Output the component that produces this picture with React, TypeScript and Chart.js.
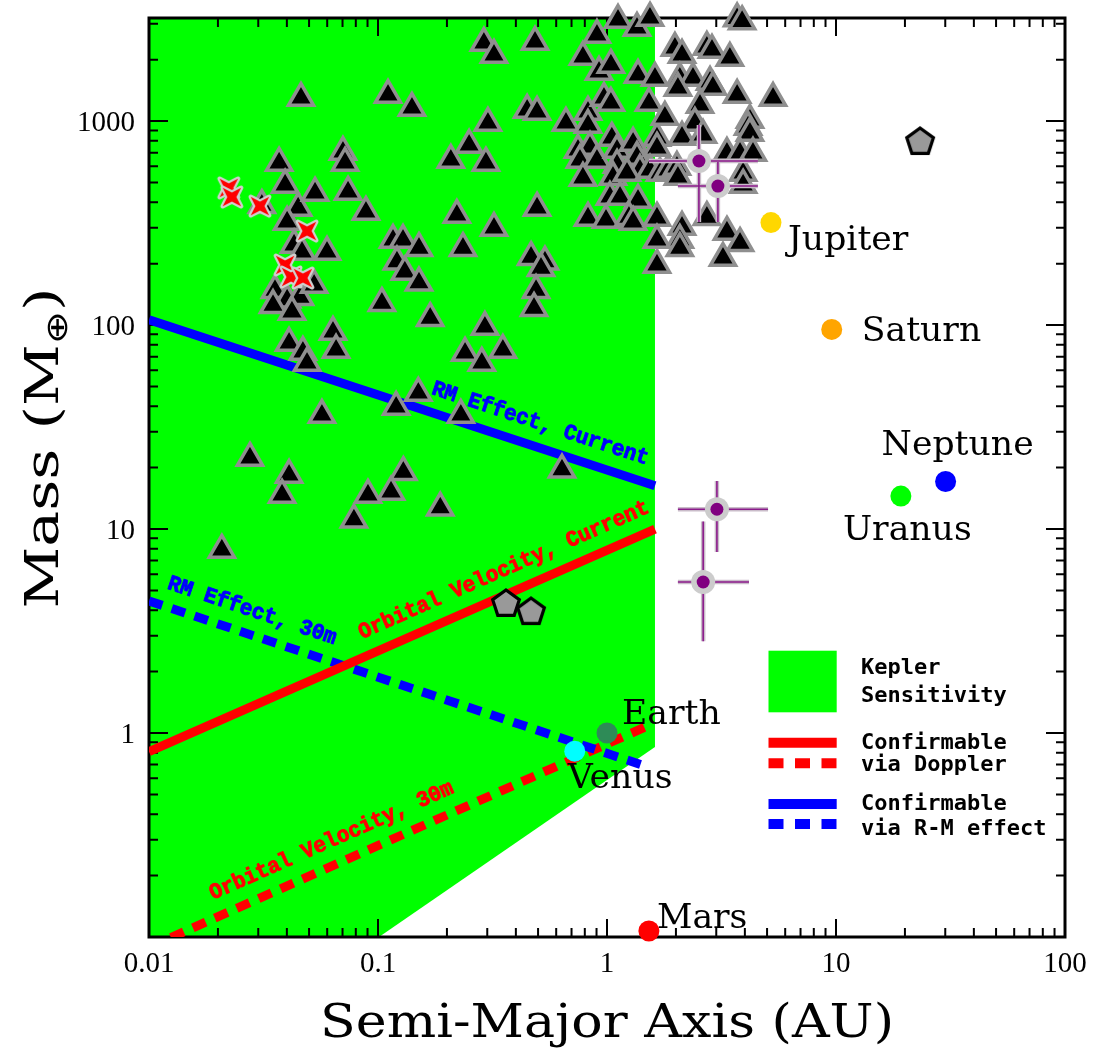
import React, { useEffect, useRef } from 'react';
import { Chart, registerables } from 'chart.js';

Chart.register(...registerables);

// ---------------- axis ranges & tick labels ----------------
const X_MIN = 0.01;
const X_MAX = 100;
const Y_MIN = 0.1;
const Y_MAX = 3200;
const xTickValues = [0.01, 0.1, 1, 10, 100];
const xTickLabels = ['0.01', '0.1', '1', '10', '100'];
const yTickValues = [1, 10, 100, 1000];
const yTickLabels = ['1', '10', '100', '1000'];

// ---------------- known exoplanets (triangles) ----------------
const triX = [0.0208,0.0276,0.0409,0.0381,0.129,0.114,0.0904,0.187,0.0785,0.0569,
0.150,0.120,0.230,0.636,0.0409,0.047,0.049,0.0636,0.0656,0.104,
0.169,0.293,0.240,0.284,0.351,0.0355,0.0401,0.0456,0.0526,0.0348,
0.0421,0.0370,0.0393,0.0311,0.0448,0.0401,0.043,0.0466,0.0599,0.0531,
0.074,0.0886,0.0703,0.0718,0.0461,0.1106,0.1407,0.1163,0.1286,0.151,
0.121,0.131,0.151,0.208,0.250,0.296,0.302,0.290,0.321,0.485,
0.221,0.321,0.495,0.235,0.466,0.536,0.515,0.490,0.480,0.448,
0.495,0.662,0.826,0.826,0.747,0.843,0.762,0.904,0.785,1.05,
1.106,1.30,1.352,1.106,1.062,1.393,1.223,1.653,1.653,1.541,
1.704,1.03,1.14,1.366,0.97,1.04,1.525,0.785,0.923,1.04,
1.366,1.62,0.904,1.117,1.352,1.541,0.826,0.99,1.247,1.30,
1.653,1.653,1.653,3.70,3.89,1.98,2.126,2.73,2.874,3.44,
2.08,2.374,2.818,2.90,3.70,5.31,2.04,2.547,1.79,2.42,
4.21,4.13,4.21,2.126,2.626,3.34,3.81,4.34,1.846,2.02,
2.04,3.93,3.93,2.73,2.126,2.08,2.08,3.34,3.81,3.21];
const triY = [7.9,22.3,18.4,14.7,19.0,15.2,14.7,12.7,11.1,36.2,
46.4,39.6,36.2,19.5,81.6,73.7,65.1,92.4,75.4,128,
108,97.8,72.9,65.1,75.4,148,133,137,157,125,
116,623,486,387,375,320,247,228,228,444,
449,358,705,623,1297,1341,1158,261,261,238,
204,182,161,644,763,623,977,2412,2107,2440,
346,299,375,238,215,204,190,148,121,1132,
1107,977,1107,955,721,746,644,644,526,826,
721,780,666,609,531,575,556,826,738,575,
556,424,424,410,1297,1225,1225,2059,1738,1883,
1680,1625,2641,3126,2858,3200,335,327,338,320,
335,261,197,3180,3080,2280,2107,2306,2228,2036,
1625,1625,1553,1468,1341,1297,1452,1198,1046,977,
1011,935,873,835,854,697,697,697,575,595,
531,556,486,338,302,261,238,286,252,213];

// ---------------- red stars ----------------
const starX = [0.0223, 0.0230, 0.0305, 0.049, 0.0393, 0.0417, 0.047];
const starY = [470, 424, 383, 289, 197, 172, 170];

// ---------------- pentagons ----------------
const pentX = [23.3, 0.362, 0.466];
const pentY = [798, 4.34, 3.96];

// ---------------- points with error bars ----------------
const errX = [2.52, 3.05, 3.02, 2.63];
const errY = [637, 480, 12.5, 5.5];
const errXLo = [1.525, 2.04, 2.04, 2.04];
const errXHi = [4.56, 4.56, 5.05, 4.17];
const errYLo = [320, 320, 7.71, 2.82];
const errYHi = [955, 630, 17.2, 10.9];

// ---------------- solar system ----------------
const planetNames = ['Mars', 'Venus', 'Earth', 'Jupiter', 'Saturn', 'Uranus', 'Neptune'];
const planetA = [1.524, 0.723, 1.0, 5.2, 9.58, 19.2, 30.1];
const planetM = [0.107, 0.815, 1.0, 317.8, 95.2, 14.5, 17.1];
const planetColors = ['#ff0000', '#00ffff', '#2e8b57', '#ffd700', '#ffa500', '#00ff00', '#0000ff'];

// ---------------- Kepler sensitivity region (lower-right boundary) ----------------
const keplerX = [0.01, 0.101, 1.62, 1.62];
const keplerY = [0.1, 0.1, 0.854, 3200];

// ---------------- confirmation limit lines ----------------
const rmCurX = [0.01, 1.62];
const rmCurY = [106, 16.3];
const rm30X = [0.01, 1.52];
const rm30Y = [4.44, 0.68];
const ovCurX = [0.01, 1.62];
const ovCurY = [0.81, 10];
const ov30X = [0.01, 1.55];
const ov30Y = [0.089, 1.1];

const pts = (xs: number[], ys: number[]) => xs.map((x, i) => ({ x, y: ys[i] }));

function logTicks(min: number, max: number) {
  const out: { v: number; major: boolean }[] = [];
  const d0 = Math.floor(Math.log10(min));
  const d1 = Math.ceil(Math.log10(max));
  for (let d = d0; d <= d1; d++) {
    for (let k = 1; k <= 9; k++) {
      const v = k * Math.pow(10, d);
      if (v >= min * 0.999 && v <= max * 1.001) out.push({ v, major: k === 1 });
    }
  }
  return out;
}

function makeStar(): HTMLCanvasElement {
  const c = document.createElement('canvas');
  c.width = 32; c.height = 32;
  const ctx = c.getContext('2d')!;
  const cx = 16, cy = 16, R = 13, r = 4.5;
  ctx.beginPath();
  for (let i = 0; i < 8; i++) {
    const ang = Math.PI / 4 + (i * Math.PI) / 4;
    const rad = i % 2 === 0 ? R : r;
    const px = cx + Math.cos(ang) * rad;
    const py = cy + Math.sin(ang) * rad;
    if (i === 0) ctx.moveTo(px, py); else ctx.lineTo(px, py);
  }
  ctx.closePath();
  ctx.lineJoin = 'round';
  ctx.lineWidth = 4.5;
  ctx.strokeStyle = '#d0d0d0';
  ctx.stroke();
  ctx.fillStyle = '#ff0000';
  ctx.fill();
  return c;
}

function makePentagon(): HTMLCanvasElement {
  const c = document.createElement('canvas');
  c.width = 36; c.height = 36;
  const ctx = c.getContext('2d')!;
  const cx = 18, cy = 19, R = 14;
  ctx.beginPath();
  for (let i = 0; i < 5; i++) {
    const ang = -Math.PI / 2 + (i * 2 * Math.PI) / 5;
    const px = cx + Math.cos(ang) * R;
    const py = cy + Math.sin(ang) * R;
    if (i === 0) ctx.moveTo(px, py); else ctx.lineTo(px, py);
  }
  ctx.closePath();
  ctx.fillStyle = '#999999';
  ctx.fill();
  ctx.lineJoin = 'miter';
  ctx.lineWidth = 3.2;
  ctx.strokeStyle = '#000000';
  ctx.stroke();
  return c;
}

function drawAxes(chart: any) {
  const { ctx, chartArea: a, scales } = chart;
  const xs = scales.x, ys = scales.y;
  ctx.save();
  ctx.strokeStyle = '#000';
  ctx.lineWidth = 2;
  ctx.beginPath();
  for (const t of logTicks(X_MIN, X_MAX)) {
    const px = xs.getPixelForValue(t.v);
    const len = t.major ? 18 : 9;
    ctx.moveTo(px, a.bottom); ctx.lineTo(px, a.bottom - len);
    ctx.moveTo(px, a.top); ctx.lineTo(px, a.top + len);
  }
  for (const t of logTicks(Y_MIN, Y_MAX)) {
    const py = ys.getPixelForValue(t.v);
    const len = t.major ? 19 : 9;
    ctx.moveTo(a.left, py); ctx.lineTo(a.left + len, py);
    ctx.moveTo(a.right, py); ctx.lineTo(a.right - len, py);
  }
  ctx.stroke();
  ctx.lineWidth = 3;
  ctx.strokeRect(a.left, a.top, a.right - a.left, a.bottom - a.top);
  ctx.restore();
}

function fitText(ctx: CanvasRenderingContext2D, text: string, cx: number, y: number, targetW: number, strokeW = 0) {
  const w = ctx.measureText(text).width;
  ctx.save();
  ctx.translate(cx, y);
  ctx.scale(targetW / w, 1);
  ctx.textAlign = 'center';
  if (strokeW > 0) {
    ctx.lineWidth = strokeW;
    ctx.strokeStyle = ctx.fillStyle;
    ctx.lineJoin = 'round';
    ctx.strokeText(text, 0, 0);
  }
  ctx.fillText(text, 0, 0);
  ctx.restore();
}

const PLANET_LABEL_OFFSET: [number, number][] = [[8, -3], [-7, 37], [15, -9], [17, 27], [30, 12], [-58, 44], [-64, -26]];

const LINE_LABELS = [
  { text: 'RM Effect, Current', color: '#0000ff', xs: rmCurX, ys: rmCurY, at: 0.475 },
  { text: 'Orbital Velocity, Current', color: '#ff0000', xs: ovCurX, ys: ovCurY, at: 0.389 },
  { text: 'RM Effect, 30m', color: '#0000ff', xs: rm30X, ys: rm30Y, at: 0.0262 },
  { text: 'Orbital Velocity, 30m', color: '#ff0000', xs: ov30X, ys: ov30Y, at: 0.0689 },
];

function drawTexts(chart: any) {
  const { ctx, chartArea: a, scales } = chart;
  const xs = scales.x, ys = scales.y;
  ctx.save();

  // line labels
  ctx.font = 'bold 22px "Liberation Mono"';
  ctx.textBaseline = 'middle';
  for (const L of LINE_LABELS) {
    const x0 = xs.getPixelForValue(L.xs[0]), y0 = ys.getPixelForValue(L.ys[0]);
    const x1 = xs.getPixelForValue(L.xs[1]), y1 = ys.getPixelForValue(L.ys[1]);
    const ang = Math.atan2(y1 - y0, x1 - x0);
    const ax = xs.getPixelForValue(L.at);
    const ay = y0 + ((ax - x0) / (x1 - x0)) * (y1 - y0);
    ctx.save();
    ctx.translate(ax, ay);
    ctx.rotate(ang);
    ctx.fillStyle = L.color;
    fitText(ctx, L.text, 0, -23, L.text.length * 12.6, 0.9);
    ctx.restore();
  }

  // planet labels
  ctx.fillStyle = '#000';
  ctx.font = '33px "DejaVu Serif"';
  ctx.textAlign = 'left';
  ctx.textBaseline = 'alphabetic';
  planetNames.forEach((n, i) => {
    const px = xs.getPixelForValue(planetA[i]);
    const py = ys.getPixelForValue(planetM[i]);
    const [dx, dy] = PLANET_LABEL_OFFSET[i];
    ctx.save();
    ctx.translate(px + dx, py + dy);
    ctx.scale(1.05, 1);
    ctx.fillText(n, 0, 0);
    ctx.restore();
  });

  // tick labels
  ctx.font = '29px "Liberation Serif"';
  ctx.textAlign = 'center';
  ctx.textBaseline = 'alphabetic';
  xTickValues.forEach((v, i) => {
    ctx.fillText(xTickLabels[i], xs.getPixelForValue(v), a.bottom + 35);
  });
  ctx.textAlign = 'right';
  yTickValues.forEach((v, i) => {
    ctx.fillText(yTickLabels[i], a.left - 14, ys.getPixelForValue(v) + 10);
  });

  // axis titles
  ctx.font = '46px "DejaVu Serif"';
  ctx.textBaseline = 'alphabetic';
  fitText(ctx, 'Semi-Major Axis (AU)', (a.left + a.right) / 2, 1037, 574);

  // y title with subscript
  ctx.save();
  ctx.translate(58, 448);
  ctx.rotate(-Math.PI / 2);
  const big = '46px "DejaVu Serif"';
  const small = '30px "DejaVu Sans"';
  ctx.font = big;
  const w1 = ctx.measureText('Mass (M').width;
  const w3 = ctx.measureText(')').width;
  ctx.font = small;
  const w2 = ctx.measureText('\u2295').width;
  const W = w1 + w2 + w3;
  ctx.scale(321 / W, 1);
  ctx.textAlign = 'left';
  ctx.font = big;
  ctx.fillText('Mass (M', -W / 2, 0);
  ctx.font = small;
  ctx.fillText('\u2295', -W / 2 + w1, 9);
  ctx.font = big;
  ctx.fillText(')', -W / 2 + w1 + w2, 0);
  ctx.restore();

  // legend
  ctx.fillStyle = '#00ff00';
  ctx.fillRect(768.5, 650.7, 68.2, 61.6);
  ctx.lineWidth = 10;
  ctx.lineCap = 'butt';
  const legLine = (y: number, color: string, dashed: boolean) => {
    ctx.strokeStyle = color;
    ctx.setLineDash(dashed ? [15, 11.5] : []);
    ctx.beginPath();
    ctx.moveTo(768.5, y);
    ctx.lineTo(836.7, y);
    ctx.stroke();
  };
  legLine(742.7, '#ff0000', false);
  legLine(763.3, '#ff0000', true);
  legLine(804, '#0000ff', false);
  legLine(824, '#0000ff', true);
  ctx.setLineDash([]);
  ctx.fillStyle = '#000';
  ctx.font = 'bold 22px "DejaVu Sans Mono"';
  ctx.textAlign = 'left';
  ctx.fillText('Kepler', 861, 674);
  ctx.fillText('Sensitivity', 861, 701.7);
  ctx.fillText('Confirmable', 861, 749);
  ctx.fillText('via Doppler', 861, 770.7);
  ctx.fillText('Confirmable', 861, 810);
  ctx.fillText('via R-M effect', 861, 835);

  ctx.restore();
}

export default function App() {
  const ref = useRef<HTMLCanvasElement>(null);

  useEffect(() => {
    const canvas = ref.current;
    if (!canvas) return;
    const starImg = makeStar();
    const pentImg = makePentagon();

    const errBarData: any[] = [];
    errX.forEach((x, i) => {
      errBarData.push({ x: errXLo[i], y: errY[i] }, { x: errXHi[i], y: errY[i] }, { x, y: null });
      errBarData.push({ x, y: errYLo[i] }, { x, y: errYHi[i] }, { x, y: null });
    });

    const lineDs = (xs: number[], ys: number[], color: string, dashed: boolean, order: number) => ({
      type: 'line' as const,
      data: pts(xs, ys),
      borderColor: color,
      borderWidth: 9,
      borderDash: dashed ? [14, 10] : [],
      borderCapStyle: 'butt' as const,
      pointRadius: 0,
      fill: false,
      tension: 0,
      clip: 0,
      order,
    });

    const chart = new Chart(canvas, {
      type: 'scatter',
      data: {
        datasets: [
          {
            type: 'line',
            data: pts(keplerX, keplerY),
            borderWidth: 0,
            borderColor: 'rgba(0,0,0,0)',
            backgroundColor: '#00ff00',
            fill: 'end',
            pointRadius: 0,
            tension: 0,
            clip: 0,
            order: 20,
          } as any,
          lineDs(ov30X, ov30Y, '#ff0000', true, 19),
          lineDs(rm30X, rm30Y, '#0000ff', true, 18),
          lineDs(ovCurX, ovCurY, '#ff0000', false, 17),
          lineDs(rmCurX, rmCurY, '#0000ff', false, 16),
          {
            data: pts(triX, triY),
            pointStyle: 'triangle',
            pointRadius: 14.5,
            backgroundColor: '#000000',
            borderColor: '#8f8f8f',
            borderWidth: 3.5,
            clip: false,
            order: 15,
          } as any,
          {
            data: pts(starX, starY),
            pointStyle: starImg,
            pointRadius: 12,
            clip: false,
            order: 14,
          } as any,
          {
            data: pts(pentX, pentY),
            pointStyle: pentImg,
            pointRadius: 13,
            clip: false,
            order: 13,
          } as any,
          {
            type: 'line',
            data: errBarData,
            borderColor: '#c9bcc9',
            borderWidth: 4.5,
            pointRadius: 0,
            spanGaps: false,
            fill: false,
            tension: 0,
            clip: false,
            order: 12,
          } as any,
          {
            type: 'line',
            data: errBarData,
            borderColor: '#8b1a8b',
            borderWidth: 1.6,
            pointRadius: 0,
            spanGaps: false,
            fill: false,
            tension: 0,
            clip: false,
            order: 11,
          } as any,
          {
            data: pts(errX, errY),
            pointStyle: 'circle',
            pointRadius: 12,
            backgroundColor: '#cccccc',
            borderWidth: 0,
            clip: false,
            order: 10,
          } as any,
          {
            data: pts(errX, errY),
            pointStyle: 'circle',
            pointRadius: 6.5,
            backgroundColor: '#800080',
            borderWidth: 0,
            clip: false,
            order: 9,
          } as any,
          {
            data: pts(planetA, planetM),
            pointStyle: 'circle',
            pointRadius: 10.5,
            backgroundColor: planetColors,
            borderWidth: 0,
            clip: false,
            order: 8,
          } as any,
        ],
      },
      options: {
        responsive: false,
        animation: false,
        devicePixelRatio: 1,
        events: [],
        layout: { padding: { left: 149, right: 31, top: 18, bottom: 111 } },
        scales: {
          x: { type: 'logarithmic', min: X_MIN, max: X_MAX, display: false, bounds: 'data' },
          y: { type: 'logarithmic', min: Y_MIN, max: Y_MAX, display: false, bounds: 'data' },
        },
        plugins: {
          legend: { display: false },
          tooltip: { enabled: false },
        },
      } as any,
      plugins: [
        {
          id: 'axesAndText',
          afterDatasetDraw(chart: any, args: any) {
            if (args.index === 0) drawAxes(chart);
          },
          afterDraw(chart: any) {
            drawTexts(chart);
          },
        },
      ],
    });
    return () => chart.destroy();
  }, []);

  return (
    <div style={{ position: 'absolute', left: 0, top: 0, width: 1096, height: 1048, background: '#ffffff' }}>
      <canvas ref={ref} width={1096} height={1048} style={{ display: 'block', width: 1096, height: 1048 }} />
    </div>
  );
}
